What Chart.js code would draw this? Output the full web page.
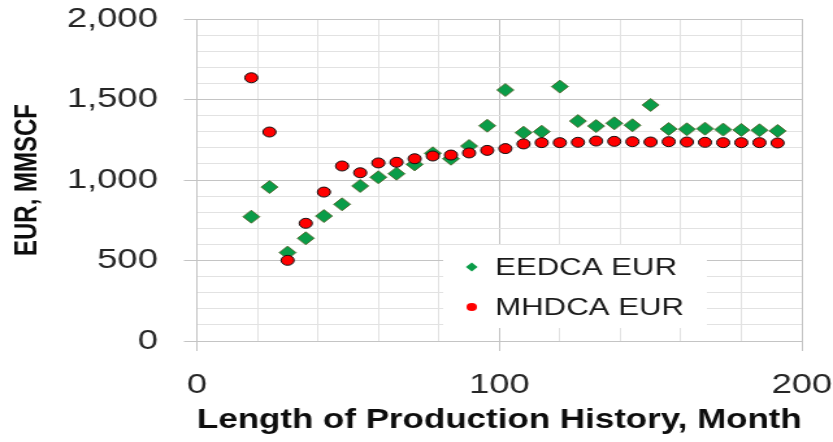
<!DOCTYPE html>
<html>
<head>
<meta charset="utf-8">
<script src="https://cdn.jsdelivr.net/npm/chart.js@4/dist/chart.umd.min.js"></script>
<style>
  html, body { margin: 0; padding: 0; background: #fff; overflow: hidden; }
  #wrap { width: 641px; height: 442px; transform: scaleX(1.2995); transform-origin: 0 0; }
</style>
</head>
<body>
<div id="wrap"><canvas id="c"></canvas></div>
<script>
const months = [18, 24, 30, 36, 42, 48, 54, 60, 66, 72, 78, 84, 90, 96, 102,
                108, 114, 120, 126, 132, 138, 144, 150, 156, 162, 168, 174, 180, 186, 192];
const eedcaEUR = [772, 956, 549, 638, 776, 849, 963, 1017, 1039, 1097, 1166, 1132, 1211, 1337, 1559,
                  1294, 1300, 1580, 1366, 1335, 1352, 1340, 1466, 1317, 1315, 1319, 1313, 1311, 1309, 1305];
const mhdcaEUR = [1635, 1298, 501, 731, 925, 1087, 1045, 1106, 1110, 1132, 1149, 1155, 1168, 1184, 1195,
                  1224, 1232, 1232, 1234, 1242, 1240, 1238, 1236, 1238, 1236, 1234, 1232, 1232, 1232, 1230];
const seriesNames = ['EEDCA EUR', 'MHDCA EUR'];
const xTickLabels = [0, 100, 200];
const yTickLabels = [0, 500, 1000, 1500, 2000];
const xTitle = 'Length of Production History, Month';
const yTitle = 'EUR, MMSCF';

const FONT = "'Liberation Sans', Arial, sans-serif";
const GREEN = '#0a9c48';
const GREEN_BORDER = '#4d5a1e';
const RED = '#ff0000';
const MAJOR = '#c4c4c4';
const MINOR = '#e2e2e2';

function toPts(xs, ys) { return xs.map((x, i) => ({ x: x, y: ys[i] })); }

const legendPlugin = {
  id: 'insideLegend',
  beforeDatasetsDraw(chart) {
    const ctx = chart.ctx;
    ctx.save();
    ctx.fillStyle = '#ffffff';
    ctx.fillRect(341, 245, 203, 83);
    const rows = [
      { y: 267, name: seriesNames[0], kind: 'diamond' },
      { y: 307, name: seriesNames[1], kind: 'circle' }
    ];
    rows.forEach(r => {
      const mx = 363;
      ctx.beginPath();
      if (r.kind === 'diamond') {
        ctx.moveTo(mx - 4.5, r.y); ctx.lineTo(mx, r.y - 4.5);
        ctx.lineTo(mx + 4.5, r.y); ctx.lineTo(mx, r.y + 4.5);
        ctx.closePath();
        ctx.fillStyle = GREEN; ctx.fill();
      } else {
        ctx.arc(mx, r.y, 4, 0, Math.PI * 2);
        ctx.fillStyle = RED; ctx.fill();
      }
      ctx.fillStyle = '#1a1a1a';
      ctx.font = '24px ' + FONT;
      ctx.textBaseline = 'middle';
      ctx.textAlign = 'left';
      ctx.fillText(r.name, 381, r.y + 1);
    });
    ctx.restore();
  }
};

new Chart(document.getElementById('c'), {
  type: 'scatter',
  data: {
    datasets: [
      {
        label: seriesNames[0],
        data: toPts(months, eedcaEUR),
        pointStyle: 'rectRot',
        pointRadius: 6.5,
        pointHoverRadius: 6.5,
        backgroundColor: GREEN,
        borderColor: GREEN_BORDER,
        borderWidth: 0.8,
        order: 2
      },
      {
        label: seriesNames[1],
        data: toPts(months, mhdcaEUR),
        pointStyle: 'circle',
        pointRadius: 5,
        pointHoverRadius: 5,
        backgroundColor: RED,
        borderColor: '#111111',
        borderWidth: 1,
        order: 1
      }
    ]
  },
  options: {
    responsive: true,
    maintainAspectRatio: false,
    animation: false,
    events: [],
    layout: { padding: { top: 19, right: 24, left: 0, bottom: 0 } },
    plugins: { legend: { display: false }, tooltip: { enabled: false } },
    scales: {
      x: {
        type: 'linear',
        min: 0, max: 200,
        afterFit(scale) { scale.height = 101; scale.paddingLeft = 0; scale.paddingRight = 0; },
        afterBuildTicks(scale) {
          const t = [];
          for (let v = 0; v <= 200; v += 20) t.push({ value: v });
          scale.ticks = t;
        },
        ticks: {
          autoSkip: false,
          maxRotation: 0,
          padding: 17,
          color: '#262626',
          font: { family: FONT, size: 28 },
          callback: (v) => xTickLabels.includes(v) ? String(v) : ''
        },
        grid: {
          color: (c) => (c.tick && c.tick.value % 100 === 0) ? MAJOR : MINOR,
          tickColor: (c) => (c.tick && c.tick.value % 100 === 0) ? MAJOR : 'rgba(0,0,0,0)',
          tickLength: 10,
          lineWidth: 1
        },
        border: { color: MAJOR, width: 1 },
        title: {
          display: true,
          text: xTitle,
          color: '#0d0d0d',
          font: { family: FONT, size: 28, weight: 'bold' },
          padding: { top: 0, bottom: 5 }
        }
      },
      y: {
        type: 'linear',
        min: 0, max: 2000,
        afterFit(scale) { scale.width = 151.5; scale.paddingTop = 0; scale.paddingBottom = 0; },
        afterBuildTicks(scale) {
          const t = [];
          for (let v = 0; v <= 2000; v += 100) t.push({ value: v });
          scale.ticks = t;
        },
        ticks: {
          autoSkip: false,
          padding: 20,
          color: '#262626',
          font: { family: FONT, size: 28 },
          callback: (v) => yTickLabels.includes(v) ? v.toLocaleString('en-US') : ''
        },
        grid: {
          color: (c) => (c.tick && c.tick.value % 500 === 0) ? MAJOR : MINOR,
          tickColor: (c) => (c.tick && c.tick.value % 500 === 0) ? MAJOR : 'rgba(0,0,0,0)',
          tickLength: 10,
          lineWidth: 1
        },
        border: { color: MAJOR, width: 1 },
        title: {
          display: true,
          text: yTitle,
          color: '#0d0d0d',
          font: { family: FONT, size: 24, weight: 'bold' },
          padding: { top: 7, bottom: 0 }
        }
      }
    }
  },
  plugins: [legendPlugin]
});
</script>
</body>
</html>
